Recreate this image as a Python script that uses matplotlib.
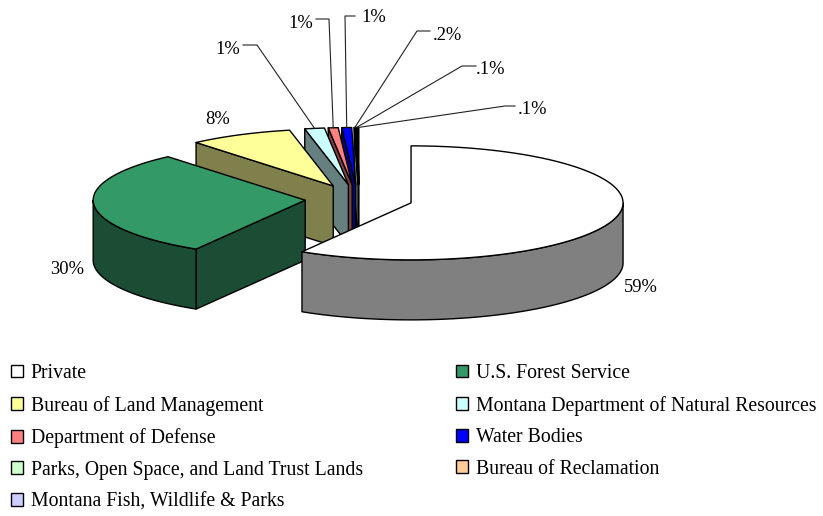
import numpy as np
import matplotlib
matplotlib.use('Agg')
import matplotlib.pyplot as plt
from matplotlib.patches import Polygon, Patch

plt.rcParams['font.family'] = ['Liberation Serif', 'DejaVu Serif']

# data
categories = ['Private', 'U.S. Forest Service', 'Bureau of Land Management',
              'Montana Department of Natural Resources', 'Department of Defense',
              'Water Bodies', 'Parks, Open Space, and Land Trust Lands',
              'Bureau of Reclamation', 'Montana Fish, Wildlife & Parks']
values = [58.6, 30.2, 7.9, 1.5, 0.75, 0.75, 0.1, 0.1, 0.1]
labels = ['59%', '30%', '8%', '1%', '1%', '1%', '.2%', '.1%', '.1%']
colors = ['#FFFFFF', '#339966', '#FFFF99', '#CCFFFF', '#FF8080',
          '#0000FF', '#CCFFCC', '#FFCC99', '#CCCCFF']

# pie geometry, in pixels of the picture
CX, CY = 359, 199
RX, RY = 212, 57
DEPTH = 60
EXPLODE = 54
nudge_x = [0, 0, -2, -2, -2, -1, 0, 0, 0]

# label position and where the leader elbow sits (None = no leader)
label_pos = [(641, 287), (67, 270), (218, 119), (228, 49), (301, 23),
             (374, 18), (447, 35), (491, 69), (533, 110)]
elbows = [None, None, None, (257, 45), (329, 19), (345, 16), (417, 31), (462, 66), (505, 106)]
elbow_dirs = [0, 0, 0, -14, -13, 10, 13, 14, 10]


def shade(c):
    return tuple(v * 0.5 for v in matplotlib.colors.to_rgb(c))


def point(cx, cy, deg):
    a = np.radians(deg)
    return cx + RX * np.sin(a), cy - RY * np.cos(a)


fig = plt.figure(figsize=(8.23, 5.16), dpi=100)
ax = fig.add_axes([0, 0, 1, 1])
ax.set_xlim(0, 823)
ax.set_ylim(516, 0)
ax.axis('off')

edges = np.cumsum([0] + values) / sum(values) * 360
rims = {}

# back slices first, Private last
for i in range(len(values) - 1, -1, -1):
    t0, t1 = edges[i], edges[i + 1]
    mid = (t0 + t1) / 2
    cx = CX + EXPLODE * np.sin(np.radians(mid)) + nudge_x[i]
    cy = CY - EXPLODE * RY / RX * np.cos(np.radians(mid))
    side = shade(colors[i])
    kw = dict(edgecolor='black', linewidth=1.0, joinstyle='round')

    if np.sin(np.radians(t0)) < -1e-6:
        x, y = point(cx, cy, t0)
        ax.add_patch(Polygon([(cx, cy), (x, y), (x, y + DEPTH), (cx, cy + DEPTH)],
                             facecolor=side, **kw))
    if np.sin(np.radians(t1)) > 1e-6:
        x, y = point(cx, cy, t1)
        ax.add_patch(Polygon([(cx, cy), (x, y), (x, y + DEPTH), (cx, cy + DEPTH)],
                             facecolor=side, **kw))
    lo, hi = max(t0, 90), min(t1, 270)
    if hi > lo:
        th = np.linspace(lo, hi, 120)
        xs, ys = point(cx, cy, th)
        top = np.column_stack([xs, ys])
        bottom = np.column_stack([xs, ys + DEPTH])[::-1]
        ax.add_patch(Polygon(np.vstack([top, bottom]), facecolor=side, **kw))

    th = np.linspace(t0, t1, 200)
    xs, ys = point(cx, cy, th)
    ax.add_patch(Polygon(np.vstack([[(cx, cy)], np.column_stack([xs, ys])]),
                         facecolor=colors[i], **kw))
    rims[i] = point(cx, cy, mid)

for i, text in enumerate(labels):
    ax.text(label_pos[i][0], label_pos[i][1], text, fontsize=13.3, color='black',
            ha='center', va='center')
    if elbows[i] is not None:
        ex, ey = elbows[i]
        rx, ry = rims[i]
        ax.plot([ex + elbow_dirs[i], ex, rx], [ey, ey, ry], color='#222222', lw=0.8)

handles = [Patch(facecolor=c, edgecolor='black', linewidth=1.0) for c in colors]
order = list(range(0, 9, 2)) + list(range(1, 9, 2))
ax.legend([handles[i] for i in order], [categories[i] for i in order], ncols=2,
          loc='lower left', bbox_to_anchor=(0.0012, -0.01), frameon=False, fontsize=14.2,
          handlelength=0.62, handleheight=0.62, handletextpad=0.39,
          labelspacing=0.64, columnspacing=4.72, borderpad=0)

fig.savefig('out.png', dpi=100)
